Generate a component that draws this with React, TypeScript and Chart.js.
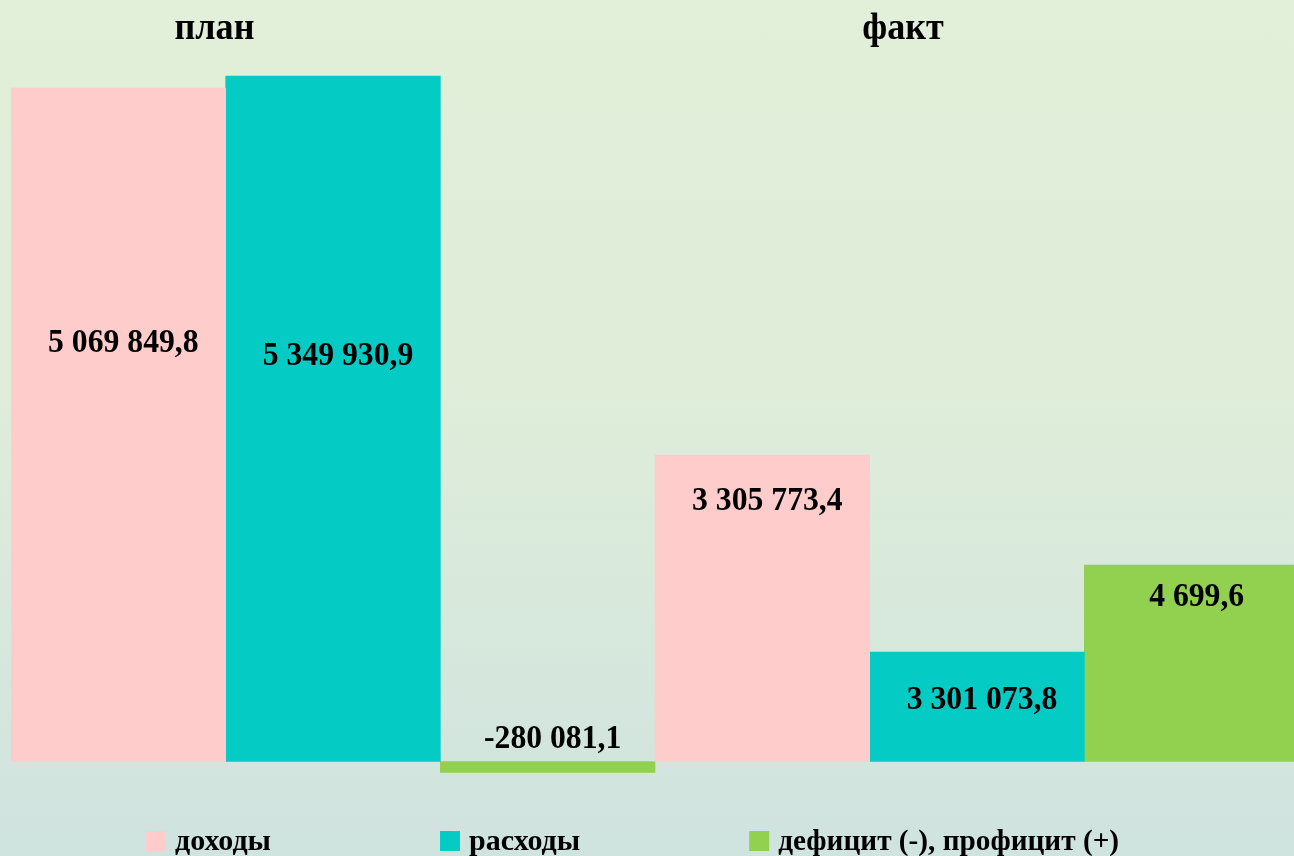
import React, { useEffect, useRef } from "react";
import { Chart, registerables } from "chart.js";

Chart.register(...registerables);

// Groups and series
const groups = ["план", "факт"];
const seriesNames = ["доходы", "расходы", "дефицит (-), профицит (+)"];
const seriesColors = ["#ffcccc", "#04ccc5", "#92d050"];

// Values printed on the bars (тыс. руб.)
const incomeValues = [5069849.8, 3305773.4];
const expenseValues = [5349930.9, 3301073.8];
const balanceValues = [-280081.1, 4699.6];

// Bar heights as drawn in the reference (the picture is not to scale), same unit as the labels / 1000
const incomeBars = [5069.8, 2307.3];
const expenseBars = [5160.2, 824.3];
const balanceBars = [-82.8, 1479.2];

const Y_MIN = -711.4;
const Y_MAX = 5732.5;

function formatRu(v: number): string {
  const neg = v < 0;
  const abs = Math.abs(v);
  const [intPart, decPart] = abs.toFixed(1).split(".");
  const grouped = intPart.replace(/\B(?=(\d{3})+(?!\d))/g, " ");
  return (neg ? "-" : "") + grouped + "," + decPart;
}

const SERIF = '"Liberation Serif", "Times New Roman", serif';

export default function App() {
  const canvasRef = useRef<HTMLCanvasElement | null>(null);

  useEffect(() => {
    const canvas = canvasRef.current;
    if (!canvas) return;
    const printed = [incomeValues, expenseValues, balanceValues];
    // label anchor as fraction of the bar (from base toward bar end)
    const anchors = [
      [0.608, 0.819],
      [0.578, 0.475],
      [-1.23, 0.789],
    ];

    const drawScaled = (ctx: CanvasRenderingContext2D, text: string, x: number, y: number, font: string, sx: number) => {
      ctx.save();
      ctx.font = font;
      ctx.textAlign = "center";
      ctx.textBaseline = "alphabetic";
      ctx.fillStyle = "#000";
      ctx.translate(x, y);
      ctx.scale(sx, 1);
      ctx.fillText(text, 0, 0);
      ctx.restore();
    };

    const labelPlugin = {
      id: "customLabels",
      afterDatasetsDraw(chart: any) {
        const ctx = chart.ctx as CanvasRenderingContext2D;
        chart.data.datasets.forEach((_ds: any, i: number) => {
          const meta = chart.getDatasetMeta(i);
          meta.data.forEach((el: any, j: number) => {
            const y = el.base + anchors[i][j] * (el.y - el.base);
            drawScaled(ctx, formatRu(printed[i][j]), el.x + 5, y, `bold 33px ${SERIF}`, 0.96);
          });
        });
        // group titles
        const ca = chart.chartArea;
        const w = ca.right - ca.left;
        const titlePos = [0.158, 0.6925];
        groups.forEach((g, k) => {
          drawScaled(ctx, g, ca.left + titlePos[k] * w, 39, `bold 38px ${SERIF}`, 0.95);
        });
        // legend
        ctx.save();
        ctx.font = `bold 30px ${SERIF}`;
        ctx.textBaseline = "alphabetic";
        ctx.textAlign = "left";
        const box = 20;
        const gapText = 9;
        const gapItem = 169;
        const widths = seriesNames.map((n) => ctx.measureText(n).width);
        let x = 146;
        seriesNames.forEach((n, k) => {
          ctx.fillStyle = seriesColors[k];
          ctx.fillRect(x, 831, box, box);
          ctx.fillStyle = "#000";
          ctx.save();
          ctx.translate(x + box + gapText, 850);
          ctx.scale(k === 2 ? 0.975 : 1, 1);
          ctx.fillText(n, 0, 0);
          ctx.restore();
          x += box + gapText + widths[k] * (k === 2 ? 0.975 : 1) + gapItem;
        });
        ctx.restore();
      },
    };

    const chart = new Chart(canvas, {
      type: "bar",
      data: {
        labels: groups,
        datasets: [
          { label: seriesNames[0], data: incomeBars, backgroundColor: seriesColors[0] },
          { label: seriesNames[1], data: expenseBars, backgroundColor: seriesColors[1] },
          { label: seriesNames[2], data: balanceBars, backgroundColor: seriesColors[2] },
        ],
      },
      options: {
        animation: false,
        responsive: false,
        devicePixelRatio: 1,
        layout: { padding: { left: 11, right: 0, top: 0, bottom: 0 } },
        datasets: { bar: { categoryPercentage: 1, barPercentage: 1, borderWidth: 0 } },
        plugins: { legend: { display: false }, tooltip: { enabled: false }, title: { display: false } },
        scales: {
          x: { display: false, grid: { display: false } },
          y: { display: false, min: Y_MIN, max: Y_MAX, grid: { display: false } },
        },
      },
      plugins: [labelPlugin],
    });
    return () => chart.destroy();
  }, []);

  return (
    <div
      style={{
        position: "fixed",
        left: 0,
        top: 0,
        width: 1294,
        height: 856,
        overflow: "hidden",
        background: "linear-gradient(to bottom, #e2efd9 0%, #dfedd9 45%, #cfe3df 100%)",
      }}
    >
      <canvas ref={canvasRef} width={1299} height={856} style={{ display: "block", width: 1299, height: 856 }} />
    </div>
  );
}
